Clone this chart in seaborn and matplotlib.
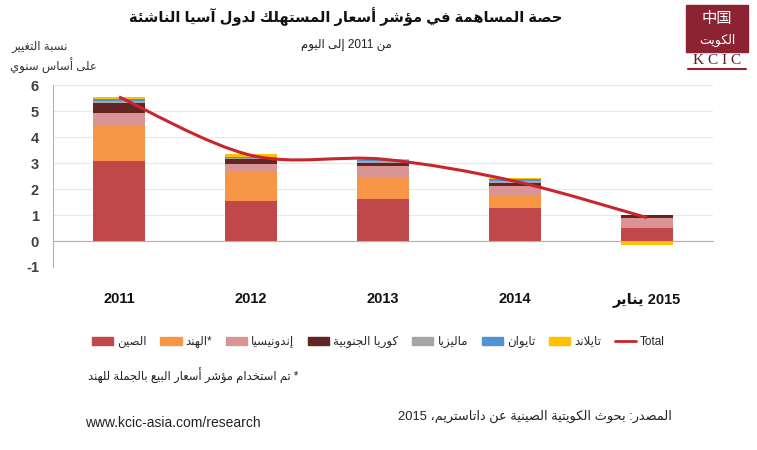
import re
import numpy as np
import matplotlib
matplotlib.use("Agg")
import matplotlib.pyplot as plt
import seaborn as sns
from matplotlib.path import Path
from matplotlib.patches import PathPatch, Rectangle
from matplotlib.lines import Line2D

# ---- data ----
years = ["2011", "2012", "2013", "2014", "2015 يناير"]
china = [3.10, 1.54, 1.60, 1.27, 0.49]
india = [1.38, 1.10, 0.82, 0.46, -0.01]
indonesia = [0.45, 0.31, 0.46, 0.40, 0.41]
korea = [0.38, 0.19, 0.13, 0.12, 0.09]
malaysia = [0.10, 0.06, 0.09, 0.07, -0.04]
taiwan = [0.04, 0.04, 0.02, 0.05, 0.00]
thailand = [0.08, 0.10, 0.02, 0.06, -0.09]
total = [5.55, 3.30, 3.15, 2.30, 0.90]

series_names = ["الصين", "*الهند", "إندونيسيا", "كوريا الجنوبية", "ماليزيا", "تايوان", "تايلاند"]
series_vals = [china, india, indonesia, korea, malaysia, taiwan, thailand]
series_colors = ["#C0474A", "#F79646", "#D99594", "#632523", "#A6A6A6", "#4F93D6", "#FFC000"]
line_color = "#C8262C"
axis_color = "#C2B47E"

# ---- minimal arabic shaping + visual ordering (matplotlib has no bidi) ----
AR_LETTERS = "ءآأؤإئابةتثجحخدذرزسشصضطظعغفقكلمنهوىي"
AR_NFORMS = [1, 2, 2, 2, 2, 4, 2, 4, 2, 4, 4, 4, 4, 4, 2, 2, 2, 2, 4, 4,
             4, 4, 4, 4, 4, 4, 4, 4, 4, 4, 4, 4, 4, 2, 2, 4]
FORMS = {}
_code = 0xFE80
for _ch, _n in zip(AR_LETTERS, AR_NFORMS):
    FORMS[_ch] = [chr(_code + k) for k in range(_n)]
    _code += _n
LAM_ALEF = {"آ": 0xFEF5, "أ": 0xFEF7, "إ": 0xFEF9, "ا": 0xFEFB}


def joins_left(ch):
    return ch in FORMS and len(FORMS[ch]) == 4


def shape(text):
    out = []
    i = 0
    while i < len(text):
        ch = text[i]
        if ch not in FORMS:
            out.append(ch)
            i += 1
            continue
        prev = text[i - 1] if i > 0 else ""
        nxt = text[i + 1] if i + 1 < len(text) else ""
        jp = joins_left(prev) and ch != "ء"
        if ch == "ل" and nxt in LAM_ALEF:
            out.append(chr(LAM_ALEF[nxt] + (1 if jp else 0)))
            i += 2
            continue
        jn = joins_left(ch) and nxt in FORMS and nxt != "ء"
        f = FORMS[ch]
        if len(f) == 1:
            out.append(f[0])
        elif jp and jn:
            out.append(f[3])
        elif jp:
            out.append(f[1])
        elif jn:
            out.append(f[2])
        else:
            out.append(f[0])
        i += 1
    return "".join(out)


def ar(text):
    s = shape(text)[::-1]
    return re.sub(r"[0-9A-Za-z.]+", lambda m: m.group(0)[::-1], s)


# ---- figure ----
sns.set_style("white")
plt.rcParams["font.family"] = ["Liberation Sans", "DejaVu Sans"]
plt.rcParams["axes.unicode_minus"] = False

fig = plt.figure(figsize=(7.57, 4.5), dpi=100)
ax = fig.add_axes([0.070, 0.4067, 0.872, 0.404])

pos_base = np.zeros(len(years))
neg_base = np.zeros(len(years))
for name, vals, col in zip(series_names, series_vals, series_colors):
    vals = np.array(vals)
    base = np.where(vals >= 0, pos_base, neg_base)
    sns.barplot(x=years, y=vals, bottom=base, color=col, width=0.4,
                saturation=1, errorbar=None, ax=ax, linewidth=0)
    pos_base = pos_base + np.clip(vals, 0, None)
    neg_base = neg_base + np.clip(vals, None, 0)

# smoothed total line (bezier through the yearly points)
xs = np.arange(len(total), dtype=float)
ys = np.array(total)
verts = [(xs[0], ys[0])]
codes = [Path.MOVETO]
for i in range(len(xs) - 1):
    p0 = np.array([xs[max(i - 1, 0)], ys[max(i - 1, 0)]])
    p1 = np.array([xs[i], ys[i]])
    p2 = np.array([xs[i + 1], ys[i + 1]])
    p3 = np.array([xs[min(i + 2, len(xs) - 1)], ys[min(i + 2, len(xs) - 1)]])
    c1 = p1 + (p2 - p0) / 6
    c2 = p2 - (p3 - p1) / 6
    verts += [tuple(c1), tuple(c2), tuple(p2)]
    codes += [Path.CURVE4] * 3
ax.add_patch(PathPatch(Path(verts, codes), fill=False, edgecolor=line_color, lw=2.2, zorder=5))

ax.set_xlim(-0.5, len(years) - 0.5)
ax.set_ylim(-1, 6)
ax.set_yticks(range(-1, 7))
ax.yaxis.grid(True, color="#E8E8E8", lw=0.8)
ax.set_axisbelow(True)
for s in ["top", "right"]:
    ax.spines[s].set_visible(False)
ax.spines["left"].set_color(axis_color)
ax.spines["bottom"].set_color(axis_color)
ax.spines["bottom"].set_position(("data", 0))
ax.set_xticks(range(len(years)))
ax.set_xticklabels([ar(y) for y in years], fontsize=10.5, fontweight="bold", color="#111111")
ax.set_xticks(np.arange(-0.5, len(years), 1), minor=True)
ax.tick_params(axis="x", which="major", length=0, pad=37)
ax.tick_params(axis="x", which="minor", length=5, color=axis_color)
ax.tick_params(axis="y", length=4, color=axis_color, pad=6, labelsize=10.5, labelcolor="#404040")
for t in ax.get_yticklabels():
    t.set_fontweight("bold")
ax.set_xlabel("")
ax.set_ylabel("")

# legend
handles = [Rectangle((0, 0), 1, 1, color=c) for c in series_colors]
handles.append(Line2D([0], [0], color=line_color, lw=2))
labels = [ar(n) for n in series_names] + ["Total"]
fig.legend(handles, labels, loc="center", bbox_to_anchor=(0.5, 1 - 342 / 450), ncol=8,
           frameon=False, fontsize=8.5, handlelength=1.8, handleheight=0.75,
           handletextpad=0.35, columnspacing=1.15)

# texts
fig.text(0.457, 1 - 17 / 450, ar("حصة المساهمة في مؤشر أسعار المستهلك لدول آسيا الناشئة"),
         ha="center", va="center", fontsize=10.5, fontweight="bold", color="#111111")
fig.text(0.457, 1 - 45 / 450, ar("من 2011 إلى اليوم"), ha="center", va="center",
         fontsize=8.5, color="#222222")
fig.text(0.015, 1 - 47 / 450, ar("نسبة التغيير"), ha="left", va="center", fontsize=8.5, color="#333333")
fig.text(0.013, 1 - 66 / 450, ar("على أساس سنوي"), ha="left", va="center", fontsize=8.5, color="#333333")
fig.text(0.116, 1 - 376 / 450, ar("* تم استخدام مؤشر أسعار البيع بالجملة للهند"),
         ha="left", va="center", fontsize=8.3, color="#222222")
fig.text(0.112, 1 - 423 / 450, "www.kcic-asia.com/research", ha="left", va="center",
         fontsize=10, color="#222222")
fig.text(0.526, 1 - 416 / 450, ar("المصدر: بحوث الكويتية الصينية عن داتاستريم، 2015"),
         ha="left", va="center", fontsize=9.3, color="#222222")

# logo
fig.patches.append(Rectangle((0.906, 1 - 52 / 450), 0.082, 47 / 450, transform=fig.transFigure,
                             color="#8B2332", figure=fig))
fig.text(0.947, 1 - 18 / 450, "中国", ha="center", va="center", fontsize=11, color="white",
         family=["Noto Sans CJK SC", "DejaVu Sans"])
fig.text(0.947, 1 - 40 / 450, ar("الكويت"), ha="center", va="center", fontsize=9, color="white")
fig.text(0.947, 1 - 60 / 450, "K C I C", ha="center", va="center", fontsize=11,
         color="#5A1A22", family="Liberation Serif")
fig.lines.append(Line2D([0.909, 0.985], [1 - 69 / 450, 1 - 69 / 450], transform=fig.transFigure,
                        color="#8B2332", lw=1.5))

fig.savefig("out.png", dpi=100)
